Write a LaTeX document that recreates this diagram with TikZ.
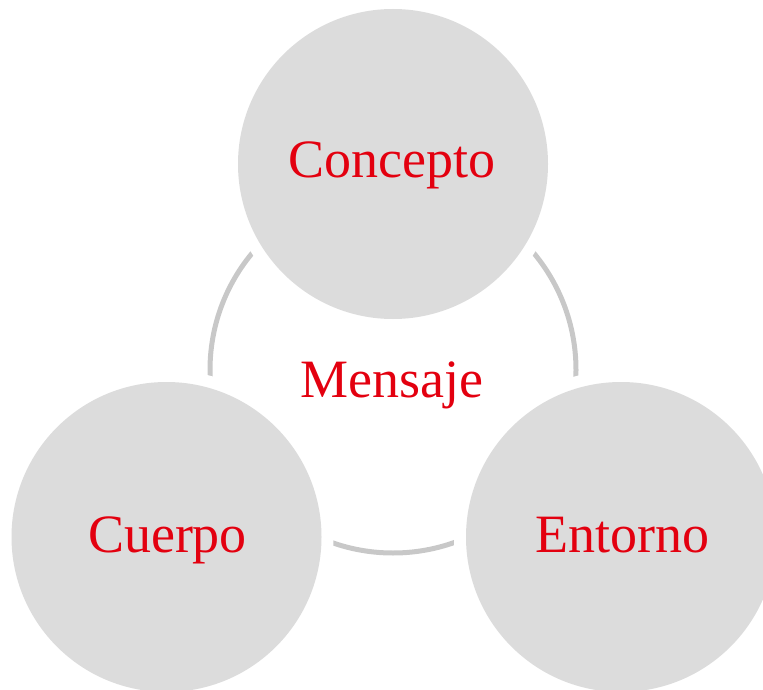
\documentclass[tikz,border=0pt]{standalone}
\usepackage{fontspec}
\setmainfont{Liberation Serif}
\definecolor{discgray}{HTML}{DCDCDC}
\definecolor{ringgray}{HTML}{C8C8C8}
\definecolor{txtred}{HTML}{E3000F}
\begin{document}
\begin{tikzpicture}[x=1pt,y=-1pt,
  disc/.style={circle,fill=discgray,minimum size=310pt,inner sep=0pt},
  knock/.style={circle,fill=white,minimum size=334pt,inner sep=0pt},
  lbl/.style={anchor=base,text=txtred,inner sep=0pt,font=\fontsize{54}{60}\selectfont}]
\useasboundingbox (0,0) rectangle (763,690);
\begin{scope}
\clip (0,0) rectangle (763,690);
% ring
\draw[ringgray,line width=5pt] (393,370) circle[radius=183pt];
% white knock-outs
\node[knock] (kc) at (393,164) {};
\node[knock] (kb) at (166.5,537) {};
\node[knock] (ke) at (621,537) {};
% discs
\node[disc] (concepto) at (393,164) {};
\node[disc] (cuerpo) at (166.5,537) {};
\node[disc] (entorno) at (621,537) {};
\end{scope}
% labels
\node[lbl] (tc) at (392,177) {Concepto};
\node[lbl] (tm) at (392,397) {Mensaje};
\node[lbl] (tb) at (167.5,552) {Cuerpo};
\node[lbl] (te) at (622,552) {Entorno};
\end{tikzpicture}
\end{document}
